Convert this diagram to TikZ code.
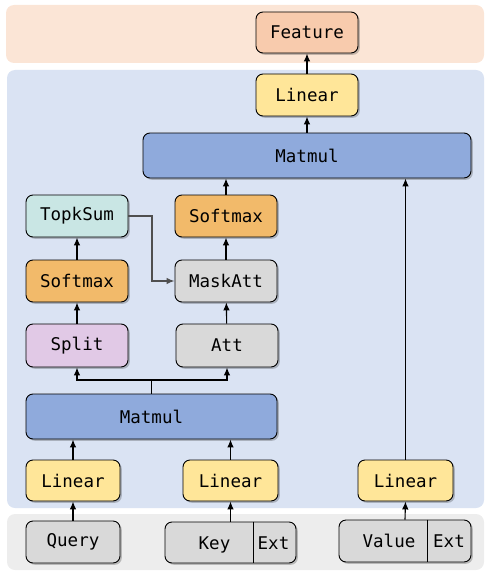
\documentclass[tikz,border=0pt]{standalone}
\usepackage{fontspec}
\setmonofont{DejaVu Sans Mono}
\usetikzlibrary{arrows.meta,shadows}
\definecolor{bandpeach}{HTML}{FBE5D6}
\definecolor{bandblue}{HTML}{DAE3F3}
\definecolor{bandgray}{HTML}{EDEDED}
\definecolor{cfeature}{HTML}{F8CBAD}
\definecolor{clinear}{HTML}{FFE699}
\definecolor{cmatmul}{HTML}{8FAADC}
\definecolor{ctopk}{HTML}{C9E6E4}
\definecolor{csoft}{HTML}{F2BA6A}
\definecolor{cgray}{HTML}{D9D9D9}
\definecolor{csplit}{HTML}{E1C9E6}
\definecolor{cside}{HTML}{4F4F4F}
\begin{document}
\begin{tikzpicture}[x=1pt,y=-1pt,
  box/.style={draw=black,line width=0.9pt,rounded corners=7pt,
    font=\ttfamily\fontsize{17.5}{20}\selectfont,inner sep=0pt,
    drop shadow={shadow xshift=1.8pt,shadow yshift=-1.8pt,opacity=0.22,fill=black}},
  lbl/.style={font=\ttfamily\fontsize{17.5}{20}\selectfont,inner sep=0pt,anchor=base},
  arr/.style={line width=1.1pt,-{Latex[length=8pt,width=6.5pt]}},
  ln/.style={line width=1.1pt}]
\useasboundingbox (0,0) rectangle (491,575);
% bands
\fill[bandpeach,rounded corners=8pt] (6,5) rectangle (484,63);
\fill[bandblue,rounded corners=8pt] (7,70) rectangle (484,508);
\fill[bandgray,rounded corners=8pt] (7,514) rectangle (484,570);
% nodes
\node[box,fill=cfeature,minimum width=102pt,minimum height=41pt] (feature) at (307,32.5) {Feature};
\node[box,fill=clinear,minimum width=102pt,minimum height=42pt] (lintop) at (307,95) {Linear};
\node[box,fill=cmatmul,minimum width=328pt,minimum height=45pt] (mattop) at (307,155.5) {Matmul};
\node[box,fill=ctopk,minimum width=102pt,minimum height=42pt] (topk) at (77,216) {TopkSum};
\node[box,fill=csoft,minimum width=102pt,minimum height=42pt] (softr) at (226,216) {Softmax};
\node[box,fill=csoft,minimum width=102pt,minimum height=42pt] (softl) at (77,281) {Softmax};
\node[box,fill=cgray,minimum width=102pt,minimum height=42pt] (mask) at (226,281) {MaskAtt};
\node[box,fill=csplit,minimum width=102pt,minimum height=43pt] (split) at (77,345.5) {Split};
\node[box,fill=cgray,minimum width=102pt,minimum height=43pt] (att) at (227,345.5) {Att};
\node[box,fill=cmatmul,minimum width=251pt,minimum height=45pt] (matbot) at (151.5,416.5) {Matmul};
\node[box,fill=clinear,minimum width=94pt,minimum height=41pt] (linq) at (73,480.5) {Linear};
\node[box,fill=clinear,minimum width=95pt,minimum height=41pt] (link) at (230.5,480.5) {Linear};
\node[box,fill=clinear,minimum width=95pt,minimum height=41pt] (linv) at (405.5,480.5) {Linear};
\node[box,fill=cgray,minimum width=94pt,minimum height=42pt] (query) at (73,542) {Query};
\node[box,fill=cgray,minimum width=131pt,minimum height=41pt] (key) at (230.5,542.5) {};
\node[box,fill=cgray,minimum width=132pt,minimum height=42pt] (value) at (405,541) {};
% key / value compartments
\draw[line width=0.9pt] ([xshift=22.5pt]key.north) -- ([xshift=22.5pt]key.south);
\node[lbl] (keytxt) at ([xshift=-16pt,yshift=-7pt]key.center) {Key};
\node[lbl] (keyext) at ([xshift=43pt,yshift=-7pt]key.center) {Ext};
\draw[line width=0.9pt] ([xshift=22pt]value.north) -- ([xshift=22pt]value.south);
\node[lbl] (valtxt) at ([xshift=-16pt,yshift=-6pt]value.center) {Value};
\node[lbl] (valext) at ([xshift=44pt,yshift=-6pt]value.center) {Ext};
% connectors
\draw[arr] (lintop) -- (feature);
\draw[arr] (mattop) -- (lintop);
\draw[arr] (softr) -- (softr |- mattop.south);
\draw[arr] (linv) -- (linv |- mattop.south);
\draw[arr] (softl) -- (topk);
\draw[arr] (split) -- (softl);
\draw[arr] (mask) -- (softr);
\draw[arr] (att) -- (mask);
\draw[arr,cside,line width=1.3pt] (topk.east) -- (152,216) -- (152,281) -- (mask.west);
\coordinate (fork) at (151.5,380);
\draw[ln] (matbot.north) -- (fork);
\draw[arr] (fork) -| (split.south);
\draw[arr] (fork) -| (att.south);
\draw[arr] (linq) -- (linq |- matbot.south);
\draw[arr] (link) -- (link |- matbot.south);
\draw[arr] (query) -- (linq);
\draw[arr] (key.north) -- (link.south);
\draw[arr] (value.north) -- (linv.south);
\end{tikzpicture}
\end{document}
